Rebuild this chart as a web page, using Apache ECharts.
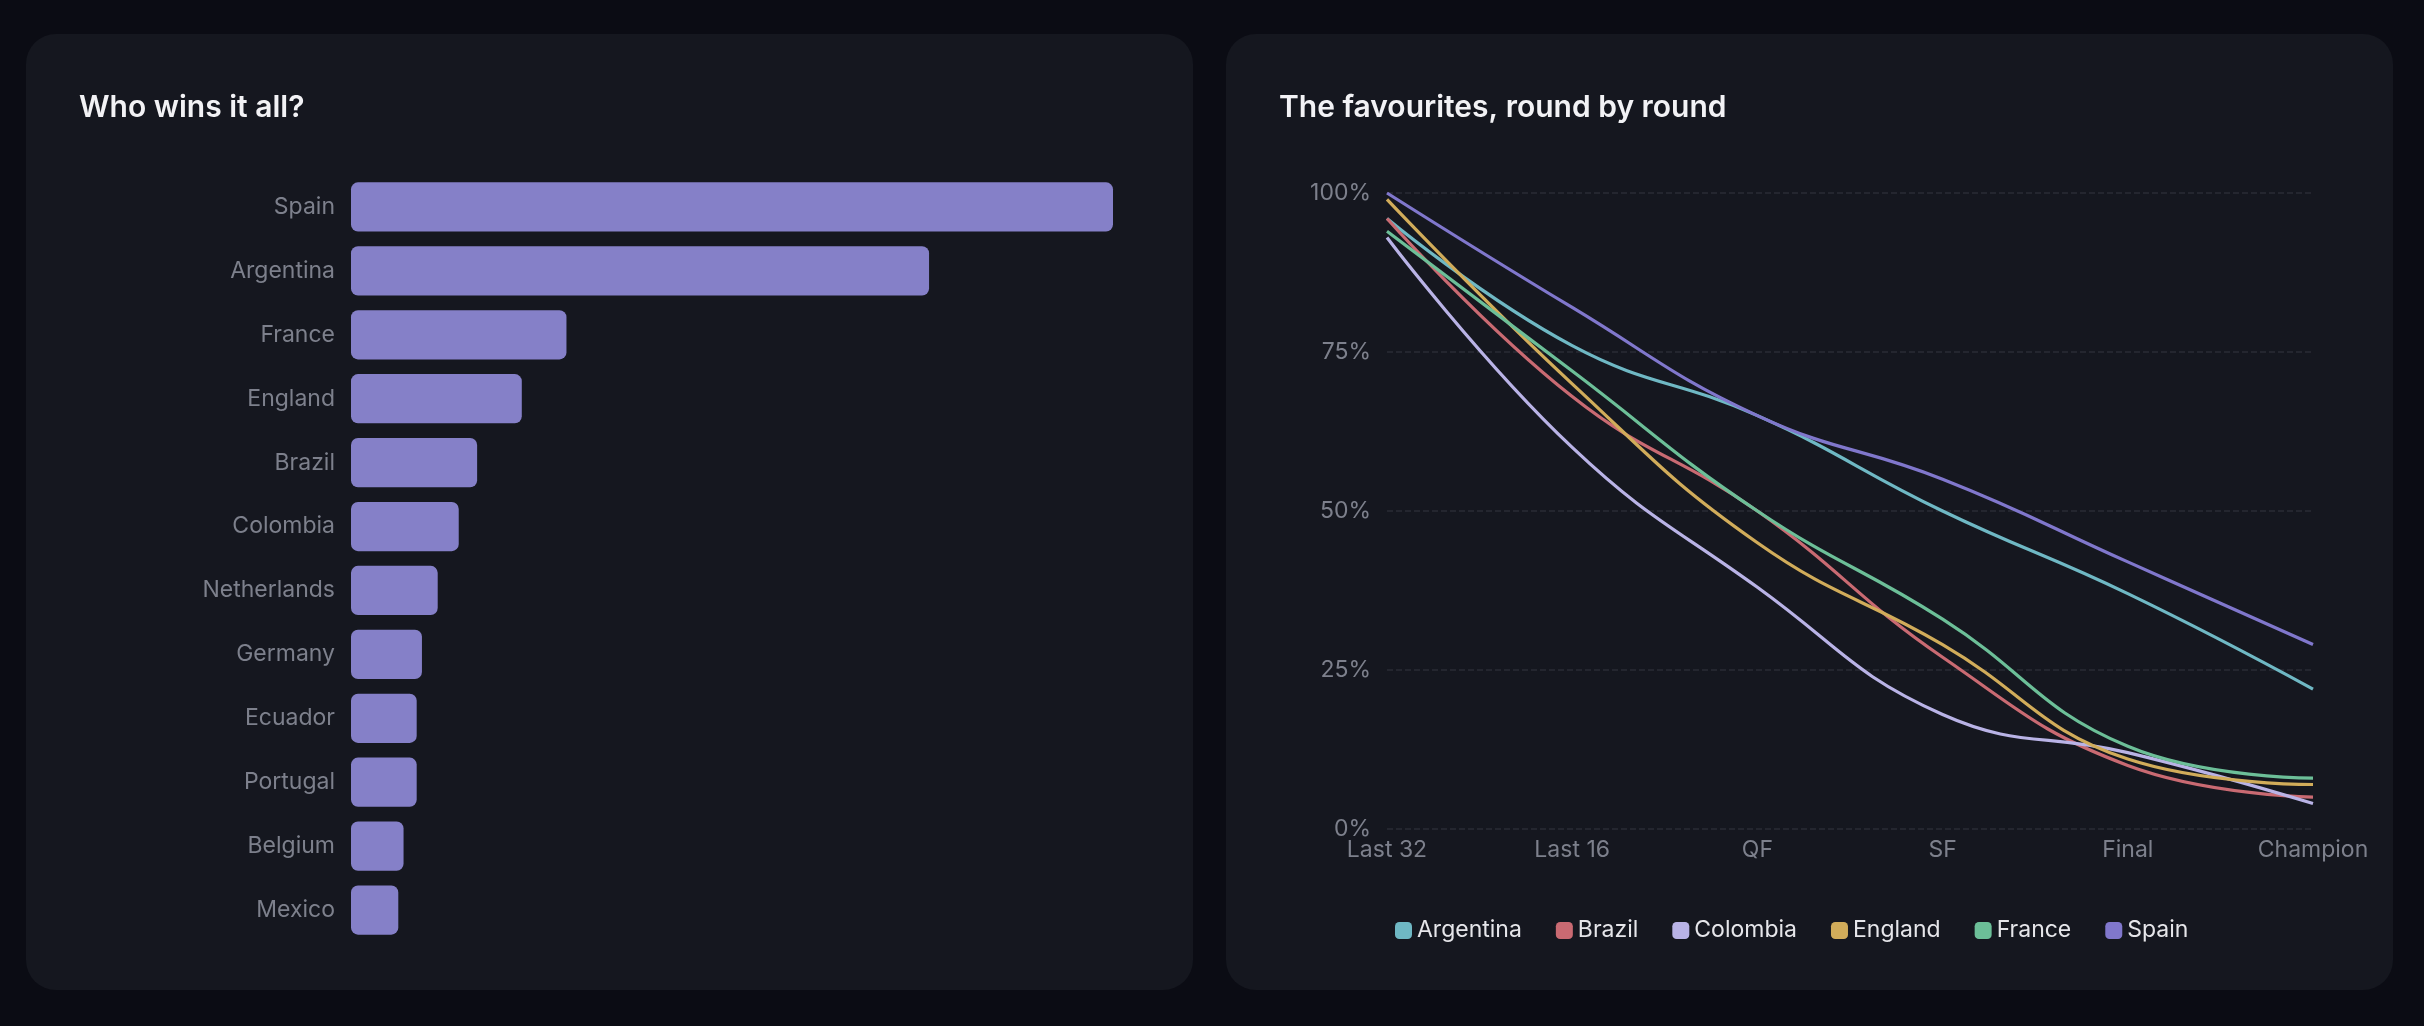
<!DOCTYPE html>
<html><head><meta charset="utf-8">
<script src="https://cdn.jsdelivr.net/npm/echarts@6/dist/echarts.min.js"></script>
<style>html,body{margin:0;background:#0b0c14}#c{width:2424px;height:1026px}</style>
</head><body><div id="c"></div>
<script>
const teams = ["Spain","Argentina","France","England","Brazil","Colombia","Netherlands","Germany","Ecuador","Portugal","Belgium","Mexico"];
const winPct = [29,22,8.2,6.5,4.8,4.1,3.3,2.7,2.5,2.5,2,1.8];
const rounds = ["Last 32","Last 16","QF","SF","Final","Champion"];
const argentina = [96,76,65,50,37,22];
const brazil = [96,68,50,27,10,5];
const colombia = [93,60,38,18,12,4];
const england = [99,70,45,29,11,7];
const france = [94,72,50,33,13,8];
const spain = [100,82,65,55,42,29];
const lineSeries = [["Argentina",argentina,"#6fb8c4"],["Brazil",brazil,"#c96a72"],["Colombia",colombia,"#b9b3e6"],["England",england,"#d1ac5a"],["France",france,"#6cbf98"],["Spain",spain,"#8077cc"]];
const font = "Inter, 'Noto Sans', sans-serif";
const chart = echarts.init(document.getElementById('c'));
chart.setOption({
  backgroundColor:'#0b0c14',
  animation:false,
  graphic:[
    {type:'rect',z:-10,shape:{x:26,y:34,width:1167,height:956,r:30},style:{fill:'#15171f'}},
    {type:'rect',z:-10,shape:{x:1226,y:34,width:1167,height:956,r:30},style:{fill:'#15171f'}}
  ],
  title:[
    {text:'Who wins it all?',left:74,top:88,textStyle:{color:'#f2f2f5',fontSize:30,fontWeight:600,fontFamily:font}},
    {text:'The favourites, round by round',left:1274,top:88,textStyle:{color:'#f2f2f5',fontSize:30,fontWeight:600,fontFamily:font}}
  ],
  grid:[
    {left:351,width:762,top:175,height:767},
    {left:1387,width:926,top:193,height:636}
  ],
  xAxis:[
    {gridIndex:0,type:'value',max:29,show:false},
    {gridIndex:1,type:'category',data:rounds,boundaryGap:false,
     axisLine:{show:false},axisTick:{show:false},
     axisLabel:{color:'#7d808c',fontSize:23,fontFamily:font,margin:10}}
  ],
  yAxis:[
    {gridIndex:0,type:'category',data:teams,inverse:true,
     axisLine:{show:false},axisTick:{show:false},
     axisLabel:{color:'#7d808c',fontSize:23,fontFamily:font,margin:16}},
    {gridIndex:1,type:'value',min:0,max:100,interval:25,
     axisLabel:{color:'#7d808c',fontSize:23,fontFamily:font,formatter:'{value}%',margin:16},
     splitLine:{lineStyle:{color:'#2a2d36',type:'dashed',width:1.5}}}
  ],
  legend:{data:lineSeries.map(s=>s[0]),top:914,left:'center',left:1390,itemWidth:17,itemHeight:17,icon:'roundRect',itemGap:34,
    textStyle:{color:'#e6e6ea',fontSize:23,fontFamily:font}},
  series:[
    {type:'bar',xAxisIndex:0,yAxisIndex:0,data:winPct,barCategoryGap:'23%',
     itemStyle:{color:'#8580c8',borderRadius:7}},
    ...lineSeries.map(s=>({name:s[0],type:'line',xAxisIndex:1,yAxisIndex:1,data:s[1],smooth:0.45,
      showSymbol:false,lineStyle:{color:s[2],width:3.2},itemStyle:{color:s[2]}}))
  ]
});
</script></body></html>
